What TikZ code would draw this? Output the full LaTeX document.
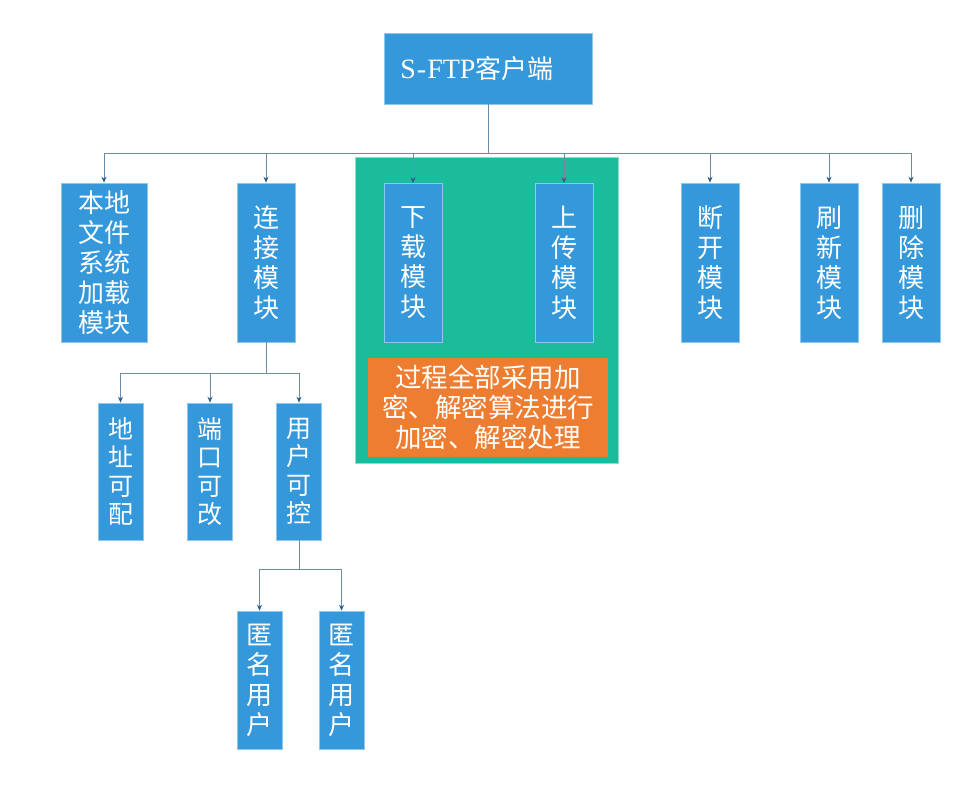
\documentclass[tikz,border=0pt]{standalone}
\usepackage{fontspec}
\setmainfont{Liberation Serif}
\newfontfamily\cjk{Noto Sans CJK SC}
\usetikzlibrary{arrows.meta}
\definecolor{boxblue}{RGB}{52,152,219}
\definecolor{boxgreen}{RGB}{26,188,156}
\definecolor{boxorange}{RGB}{237,125,49}
\definecolor{linec}{RGB}{110,138,165}
\definecolor{tipc}{RGB}{40,95,145}
\begin{document}
\begin{tikzpicture}[x=1pt,y=-1pt,
  blk/.style={fill=boxblue,draw=boxblue!55!white,line width=0.6pt,inner sep=0pt,text=white,align=center,font=\cjk\fontsize{26}{30}\selectfont},
  blks/.style={blk,font=\cjk\fontsize{25}{28.5}\selectfont},
  conn/.style={draw=linec,line width=0.9pt,-{Stealth[length=6pt,width=5pt,color=tipc]}},
  plain/.style={draw=linec,line width=0.9pt}
]
\useasboundingbox (0,0) rectangle (972,789);
% green container and orange note
\node[fill=boxgreen,draw=boxgreen!50!white,line width=0.6pt,minimum width=263pt,minimum height=306pt,inner sep=0pt] (grp) at (486.5,310) {};
\node[fill=boxorange,inner sep=0pt,minimum width=240pt,minimum height=99pt,text=white,align=center,font=\cjk\fontsize{26.5}{30}\selectfont] (note) at (488,407.5) {过程全部采用加\\密、解密算法进行\\加密、解密处理};
% top
\node[blk,minimum width=208pt,minimum height=71pt,font=\fontsize{28}{30}\selectfont] (top) at (488,68.5) {S{\kern1pt}-{\kern1pt}FTP{\cjk\fontsize{26}{30}\selectfont 客户端}\hspace{22pt}};
% level 1
\node[blk,minimum width=86pt,minimum height=159pt] (loc) at (104,262.5) {本地\\文件\\系统\\加载\\模块};
\node[blk,minimum width=58pt,minimum height=159pt] (lnk) at (266,262.5) {连\\接\\模\\块};
\node[blk,minimum width=58pt,minimum height=159pt] (dl) at (413,263) {下\\载\\模\\块};
\node[blk,minimum width=58pt,minimum height=159pt] (ul) at (564,263) {上\\传\\模\\块};
\node[blk,minimum width=58pt,minimum height=159pt] (dis) at (710,262.5) {断\\开\\模\\块};
\node[blk,minimum width=58pt,minimum height=159pt] (rfs) at (829,262.5) {刷\\新\\模\\块};
\node[blk,minimum width=58pt,minimum height=159pt] (del) at (911,262.5) {删\\除\\模\\块};
% level 2
\node[blks,minimum width=45pt,minimum height=137pt] (addr) at (120.5,471.5) {地\\址\\可\\配};
\node[blks,minimum width=45pt,minimum height=137pt] (port) at (210,471.5) {端\\口\\可\\改};
\node[blks,minimum width=45pt,minimum height=137pt] (usr) at (299,471.5) {用\\户\\可\\控};
% level 3
\node[blk,minimum width=45pt,minimum height=138pt] (an1) at (259.5,680) {匿\\名\\用\\户};
\node[blk,minimum width=45pt,minimum height=138pt] (an2) at (341.5,680) {匿\\名\\用\\户};
% buses
\coordinate (bus1) at (0,153);
\coordinate (bus2) at (0,373);
\coordinate (bus3) at (0,569);
\foreach \c in {loc,lnk,dl,ul,dis,rfs,del}
  \draw[conn] (top.south) -- (top.south |- bus1) -| (\c.north);
\foreach \c in {addr,port,usr}
  \draw[conn] (lnk.south) -- (lnk.south |- bus2) -| (\c.north);
\foreach \c in {an1,an2}
  \draw[conn] (usr.south) -- (usr.south |- bus3) -| (\c.north);
\end{tikzpicture}
\end{document}
